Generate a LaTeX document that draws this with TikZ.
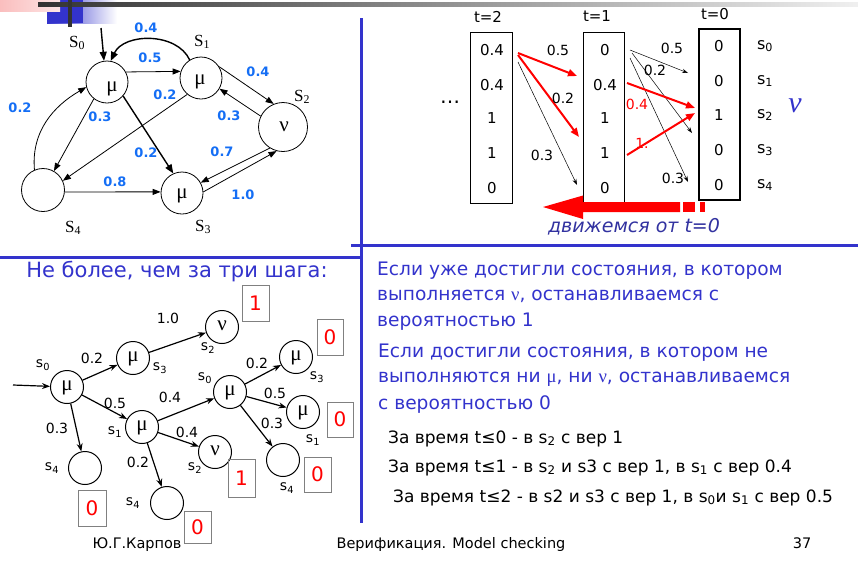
\documentclass[tikz,border=0pt]{standalone}
\usepackage{amsmath}
\usepackage{fontspec}
\setmainfont{DejaVu Sans}
\newfontfamily\grk{Liberation Serif}
\usetikzlibrary{arrows.meta,calc}
\definecolor{lblblue}{RGB}{20,110,245}
\definecolor{txtblue}{RGB}{51,51,204}
\definecolor{dblue}{RGB}{50,50,160}
\definecolor{rred}{RGB}{255,0,0}
\definecolor{pinkc}{RGB}{250,190,190}
\newcommand\fs[1]{\fontsize{#1}{#1}\selectfont}
\tikzset{
  st/.style={circle,draw,line width=0.8pt,minimum size=42pt,inner sep=0pt},
  tn/.style={circle,draw,line width=1pt,minimum size=33pt,inner sep=0pt},
  gk/.style={font=\grk\fs{21},text depth=0pt,text height=1.1ex},
  pl/.style={font=\bfseries\fs{13},text=lblblue},
  sl/.style={font=\grk\fs{17}},
  ar/.style={-{Triangle[length=8pt,width=6pt]},line width=0.8pt},
  arb/.style={-{Triangle[length=9pt,width=7pt]},line width=1.4pt},
  tl/.style={font=\fs{15}},
  vl/.style={font=\fs{15}},
  box/.style={draw,line width=0.8pt,inner sep=0pt},
  ra/.style={-{Triangle[length=9pt,width=7pt]},line width=2pt,draw=rred},
  ka/.style={-{Stealth[length=6pt,width=4pt]},line width=0.5pt},
  al/.style={font=\fs{14}},
  tra/.style={-{Stealth[length=8pt,width=6pt]},line width=1.2pt},
  rb/.style={draw=gray,line width=0.8pt,text=rred,font=\fs{20},inner sep=0pt},
  para/.style={font=\fs{18.6},text=txtblue,anchor=base west,inner sep=0pt},
  blk/.style={font=\fs{17},anchor=base west,inner sep=0pt},
  ft/.style={font=\fs{14.5},anchor=base,inner sep=0pt},
}
\begin{document}
\begin{tikzpicture}[x=1pt,y=1pt]
\useasboundingbox (0,0) rectangle (858,-563);
\fill[white] (0,0) rectangle (858,-563);
% header decoration
\shade[left color=txtblue,right color=white,shading angle=90] (47,0) rectangle (117,-23);
\fill[txtblue] (47,0) rectangle (83,-23);
\shade[left color=pinkc,right color=pinkc!40] (0,0) rectangle (60,-11);
\shade[left color=black!80,right color=black!6] (38,-2.5) rectangle (858,-6.5);
\fill[black!80] (68,0) rectangle (72,-27);
% dividing lines
\draw[txtblue,line width=3pt] (361,-18) -- (361,-523);
\draw[txtblue,line width=3pt] (351,-245) -- (858,-245);
\draw[txtblue,line width=3pt] (0,-257) -- (361,-257);

% ---------- top-left graph ----------
\node[st] (A0) at (107,-82) {};
\node[st] (A1) at (201,-78) {};
\node[st,minimum size=49pt] (A2) at (283,-127) {};
\node[st] (A3) at (182,-193) {};
\node[st,minimum size=43pt] (A4) at (43,-190) {};
\node[gk] (A0t) at (112,-88) {μ};
\node[gk] (A1t) at (200,-81) {μ};
\node[gk] (A2t) at (284,-128) {ν};
\node[gk] (A3t) at (182,-195) {μ};
\node[sl] (A0l) at (77,-43) {S$_{\text{\grk 0}}$};
\node[sl] (A1l) at (202,-42) {S$_{\text{\grk 1}}$};
\node[sl] (A2l) at (302,-97) {S$_{\text{\grk 2}}$};
\node[sl] (A3l) at (203,-227) {S$_{\text{\grk 3}}$};
\node[sl] (A4l) at (73,-228) {S$_{\text{\grk 4}}$};
\coordinate (Ain) at (101,-28);
\draw[arb] (Ain) -- (A0.98);
\draw[arb] (A1.122) to[out=115,in=65] (A0.80);
\draw[ar] (A0.28) -- (A1.162);
\draw[ar] (A1.32) -- (A2.112);
\draw[ar] (A2.154) -- (A1.-30);
\draw[ar] (A1.230) -- (A4.25);
\draw[arb] (A0.-41) -- (A3.114);
\draw[ar] (A0.232) -- (A4.60);
\draw[ar] (A4.113) to[out=95,in=210] (A0.194);
\draw[ar] (A4.-5) -- (A3.177);
\draw[ar] (A2.238) -- (A3.29);
\draw[ar] (A3.3) -- (A2.255);
\node[pl] (p1) at (146,-28) {0.4};
\node[pl] (p2) at (150,-58) {0.5};
\node[pl] (p3) at (258,-72) {0.4};
\node[pl] (p4) at (165,-95) {0.2};
\node[pl] (p5) at (229,-116) {0.3};
\node[pl] (p6) at (20,-108) {0.2};
\node[pl] (p7) at (100,-117) {0.3};
\node[pl] (p8) at (146,-153) {0.2};
\node[pl] (p9) at (222,-152) {0.7};
\node[pl] (p10) at (115,-182) {0.8};
\node[pl] (p11) at (243,-195) {1.0};

% ---------- top-right vectors ----------
\node[tl] (t2) at (488,-17) {t=2};
\node[tl] (t1) at (597,-16) {t=1};
\node[tl] (t0) at (715,-14) {t=0};
\node[box,minimum width=42pt,minimum height=171pt] (B2) at (491,-117.5) {};
\node[box,minimum width=41pt,minimum height=170pt] (B1) at (603.5,-117) {};
\node[box,line width=1.5pt,minimum width=41pt,minimum height=171pt] (B0) at (719.5,-114.5) {};
\node[vl] (v20) at (492,-50) {0.4};
\node[vl] (v21) at (492,-85) {0.4};
\node[vl] (v22) at (492,-118) {1};
\node[vl] (v23) at (492,-153) {1};
\node[vl] (v24) at (492,-188) {0};
\node[vl] (v10) at (605,-50) {0};
\node[vl] (v11) at (605,-85) {0.4};
\node[vl] (v12) at (605,-118) {1};
\node[vl] (v13) at (605,-153) {1};
\node[vl] (v14) at (605,-188) {0};
\node[vl] (v00) at (719,-46) {0};
\node[vl] (v01) at (719,-81) {0};
\node[vl] (v02) at (719,-115) {1};
\node[vl] (v03) at (719,-150) {0};
\node[vl] (v04) at (719,-185) {0};
\node[vl,font=\fs{16}] (s0) at (765,-46) {s$_{\text{0}}$};
\node[vl,font=\fs{16}] (s1) at (765,-81) {s$_{\text{1}}$};
\node[vl,font=\fs{16}] (s2) at (765,-115) {s$_{\text{2}}$};
\node[vl,font=\fs{16}] (s3) at (765,-150) {s$_{\text{3}}$};
\node[vl,font=\fs{16}] (s4) at (765,-185) {s$_{\text{4}}$};
\node[font=\grk\itshape\fs{30},text=txtblue] (nu) at (795,-106) {ν};
\node[font=\fs{20}] (dots) at (450,-102) {…};
\coordinate (c1a) at (518,-53); \coordinate (c1b) at (577,-76);
\coordinate (c2a) at (518,-55); \coordinate (c2b) at (579,-137);
\coordinate (c3a) at (518,-62); \coordinate (c3b) at (577,-185);
\coordinate (c4a) at (630,-50); \coordinate (c4b) at (688,-73);
\coordinate (c5a) at (632,-53); \coordinate (c5b) at (692,-133);
\coordinate (c6a) at (630,-58); \coordinate (c6b) at (688,-182);
\coordinate (c7a) at (627,-83); \coordinate (c7b) at (695,-108);
\coordinate (c8a) at (627,-155); \coordinate (c8b) at (695,-113);
\draw[ka] (c3a) -- (c3b);
\draw[ka] (c4a) -- (c4b);
\draw[ka] (c5a) -- (c5b);
\draw[ka] (c6a) -- (c6b);
\draw[ra] (c1a) -- (c1b);
\draw[ra] (c2a) -- (c2b);
\draw[ra] (c7a) -- (c7b);
\draw[ra] (c8a) -- (c8b);
\node[al] (q1) at (558,-50) {0.5};
\node[al] (q2) at (563,-98) {0.2};
\node[al] (q3) at (542,-155) {0.3};
\node[al] (q4) at (672,-48) {0.5};
\node[al] (q5) at (655,-70) {0.2};
\node[al] (q6) at (673,-178) {0.3};
\node[al,text=rred] (q7) at (637,-104) {0.4};
\node[al,text=rred] (q8) at (642,-143) {1.};
% big red arrow
\fill[rred] (543,-207) -- (583,-195.5) -- (583,-202) -- (680,-202) -- (680,-212) -- (583,-212) -- (583,-219) -- cycle;
\fill[rred] (683,-202) rectangle (695,-212);
\fill[rred] (700,-202) rectangle (705,-212);
\node[font=\itshape\fs{19},text=dblue] (mv) at (634,-227) {движемся от t=0};

% ---------- bottom-left tree ----------
\node[font=\fs{21},text=txtblue] (title) at (177,-272) {Не более, чем за три шага:};
\node[tn,gk] (T0) at (67,-387) {μ};
\node[tn,gk] (T3) at (133,-358) {μ};
\node[tn,gk] (T2a) at (222,-327) {ν};
\node[tn,gk] (T1) at (142,-427) {μ};
\node[tn] (T4a) at (85,-468) {};
\node[tn,gk] (T0b) at (230,-392) {μ};
\node[tn,gk] (T2b) at (215,-452) {ν};
\node[tn] (T4b) at (167,-503) {};
\node[tn,gk] (T3b) at (296,-357) {μ};
\node[tn,gk] (T1b) at (303,-412) {μ};
\node[tn] (T4c) at (283,-460) {};
\coordinate (Tin) at (13,-385);
\draw[tra] (Tin) -- (T0);
\draw[tra] (T0) -- (T3);
\draw[tra] (T3) -- (T2a);
\draw[tra] (T0) -- (T1);
\draw[tra] (T0) -- (T4a);
\draw[tra] (T1) -- (T0b);
\draw[tra] (T1) -- (T2b);
\draw[tra] (T1) -- (T4b);
\draw[tra] (T0b) -- (T3b);
\draw[tra] (T0b) -- (T1b);
\draw[tra] (T0b) -- (T4c);
\node[al] (u1) at (43,-365) {s$_{\text{0}}$};
\node[al] (u2) at (160,-368) {s$_{\text{3}}$};
\node[al] (u3) at (208,-348) {s$_{\text{2}}$};
\node[al] (u4) at (115,-432) {s$_{\text{1}}$};
\node[al] (u5) at (52,-468) {s$_{\text{4}}$};
\node[al] (u6) at (205,-378) {s$_{\text{0}}$};
\node[al] (u7) at (195,-468) {s$_{\text{2}}$};
\node[al] (u8) at (133,-503) {s$_{\text{4}}$};
\node[al] (u9) at (317,-377) {s$_{\text{3}}$};
\node[al] (u10) at (313,-440) {s$_{\text{1}}$};
\node[al] (u11) at (287,-488) {s$_{\text{4}}$};
\node[al] (w1) at (168,-318) {1.0};
\node[al] (w2) at (92,-358) {0.2};
\node[al] (w3) at (115,-403) {0.5};
\node[al] (w4) at (57,-428) {0.3};
\node[al] (w5) at (170,-397) {0.4};
\node[al] (w6) at (187,-432) {0.4};
\node[al] (w7) at (138,-462) {0.2};
\node[al] (w8) at (257,-363) {0.2};
\node[al] (w9) at (275,-393) {0.5};
\node[al] (w10) at (272,-423) {0.3};
\node[rb,minimum width=27pt,minimum height=36pt] (r1) at (255.5,-303) {1};
\node[rb,minimum width=28pt,minimum height=36pt] (r2) at (92,-508) {0};
\node[rb,minimum width=27pt,minimum height=38pt] (r3) at (241.5,-478) {1};
\node[rb,minimum width=27pt,minimum height=32pt] (r4) at (197.5,-527) {0};
\node[rb,minimum width=26pt,minimum height=36pt] (r5) at (330,-337) {0};
\node[rb,minimum width=26pt,minimum height=35pt] (r6) at (340,-419.5) {0};
\node[rb,minimum width=27pt,minimum height=35pt] (r7) at (317.5,-474.5) {0};

% ---------- bottom-right text ----------
\node[para] (L1) at (377,-275) {Если уже достигли состояния, в котором};
\node[para] (L2) at (377,-300) {выполняется {\grk ν}, останавливаемся с};
\node[para] (L3) at (377,-326) {вероятностью 1};
\node[para] (L4) at (378,-357) {Если достигли состояния, в котором не};
\node[para] (L5) at (378,-382) {выполняются ни {\grk μ}, ни {\grk ν}, останавливаемся};
\node[para] (L6) at (378,-409) {с вероятностью 0};
\node[blk] (K1) at (388,-443) {За время t≤0 - в s$_{\text{2}}$ с вер 1};
\node[blk] (K2) at (388,-472) {За время t≤1 - в s$_{\text{2}}$ и s3 с вер 1, в s$_{\text{1}}$ с вер 0.4};
\node[blk] (K3) at (393,-502) {За время t≤2 - в s2 и s3 с вер 1, в s$_{\text{0}}$и s$_{\text{1}}$ с вер 0.5};

% ---------- footer ----------
\node[ft] (f1) at (137,-548) {Ю.Г.Карпов};
\node[ft] (f2) at (451,-548) {Верификация. Model checking};
\node[ft] (f3) at (802,-548) {37};
\end{tikzpicture}
\end{document}
